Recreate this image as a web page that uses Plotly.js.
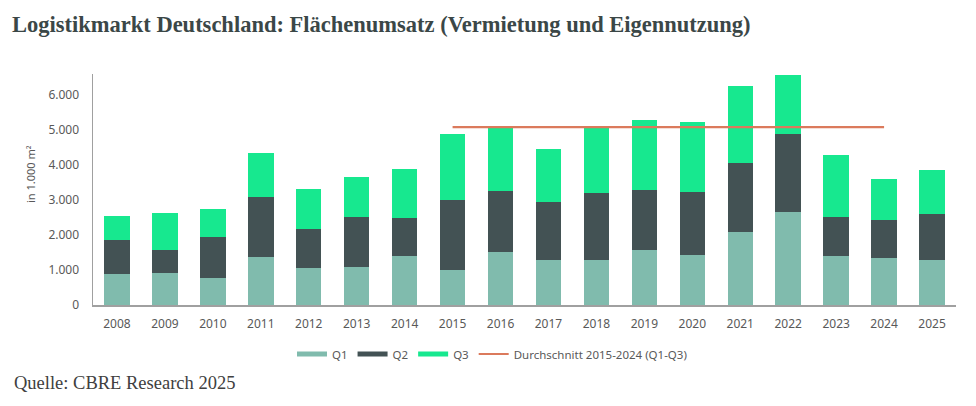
<!DOCTYPE html>
<html>
<head>
<meta charset="utf-8">
<script src="https://cdn.plot.ly/plotly-3.0.1.min.js"></script>
<style>
  html, body { margin: 0; padding: 0; background: #ffffff; }
  #chart { width: 976px; height: 406px; }
</style>
</head>
<body>
<div id="chart"></div>
<script>
// Flächenumsatz je Quartal, in 1.000 m²
const years = ['2008','2009','2010','2011','2012','2013','2014','2015','2016','2017',
               '2018','2019','2020','2021','2022','2023','2024','2025'];
const q1 = [890, 910, 760, 1380, 1050, 1090, 1390, 1000, 1510, 1280,
            1280, 1570, 1420, 2090, 2660, 1390, 1340, 1300];
const q2 = [960, 650, 1180, 1710, 1120, 1420, 1110, 2010, 1750, 1650,
            1910, 1730, 1820, 1980, 2240, 1130, 1080, 1290];
const q3 = [700, 1080, 810, 1250, 1150, 1150, 1400, 1870, 1800, 1530,
            1870, 2000, 2000, 2180, 1670, 1780, 1170, 1280];
// Durchschnitt 2015-2024 (Q1-Q3)
const avgYears = ['2015', '2024'];
const avgValue = [5080, 5080];

const yTicks = [0, 1000, 2000, 3000, 4000, 5000, 6000];

const colQ1 = '#80BBAD';
const colQ2 = '#435254';
const colQ3 = '#17E88F';
const colAvg = '#DB7A5C';
const textGrey = '#595959';

function barTrace(name, values, color) {
  return {
    type: 'bar', name: name, x: years, y: values,
    marker: { color: color, line: { width: 0 } },
    showlegend: false, hoverinfo: 'x+y+name'
  };
}
// legend keys drawn as short thick strokes
function legendEntry(name, color, width) {
  return {
    type: 'scatter', mode: 'lines', name: name, x: [null], y: [null],
    line: { color: color, width: width }, hoverinfo: 'skip', showlegend: true
  };
}

const data = [
  barTrace('Q1', q1, colQ1),
  barTrace('Q2', q2, colQ2),
  barTrace('Q3', q3, colQ3),
  {
    type: 'scatter', mode: 'lines', name: 'Durchschnitt 2015-2024 (Q1-Q3)',
    x: avgYears, y: avgValue, line: { color: colAvg, width: 2.2 },
    showlegend: false, hoverinfo: 'y'
  },
  legendEntry('Q1', colQ1, 5),
  legendEntry('Q2', colQ2, 5),
  legendEntry('Q3', colQ3, 5),
  legendEntry('Durchschnitt 2015-2024 (Q1-Q3)', colAvg, 2.2)
];

const layout = {
  width: 976, height: 406,
  paper_bgcolor: '#ffffff', plot_bgcolor: '#ffffff',
  margin: { l: 93, r: 20, t: 74, b: 101 },
  separators: ',.',
  barmode: 'stack',
  bargap: 0.47,
  font: { family: 'Noto Sans, sans-serif', color: textGrey },
  title: {
    text: '<b>Logistikmarkt Deutschland: Flächenumsatz (Vermietung und Eigennutzung)</b>',
    font: { family: 'Liberation Serif, Times New Roman, serif', size: 22.5, color: '#3B4747' },
    xref: 'container', yref: 'container',
    x: 12 / 976, xanchor: 'left',
    y: 1 - 24 / 406, yanchor: 'middle'
  },
  xaxis: {
    type: 'category',
    showline: true, linecolor: '#A0A0A0', linewidth: 1.5,
    showgrid: false, zeroline: false, ticks: '',
    ticklabelstandoff: 7,
    tickfont: { size: 12, color: textGrey }
  },
  yaxis: {
    range: [0, 6600],
    tickvals: yTicks, tickformat: ',d',
    showline: true, linecolor: '#A0A0A0', linewidth: 1.5,
    showgrid: false, zeroline: false, ticks: '',
    ticklabelstandoff: 10,
    tickfont: { size: 12, color: textGrey }
  },
  legend: {
    orientation: 'h',
    traceorder: 'normal',
    x: (292 - 93) / 863, xanchor: 'left',
    y: (305 - 354) / 231, yanchor: 'middle',
    font: { size: 11.5, color: textGrey },
    bgcolor: 'rgba(0,0,0,0)'
  },
  annotations: [
    {
      text: 'in 1.000 m²', textangle: -90, showarrow: false,
      xref: 'paper', yref: 'paper',
      x: (30 - 93) / 863, y: (305 - 174) / 231,
      xanchor: 'center', yanchor: 'middle',
      font: { size: 11, color: textGrey }
    },
    {
      text: 'Quelle: CBRE Research 2025', showarrow: false,
      xref: 'paper', yref: 'paper',
      x: (12 - 93) / 863, y: (305 - 383) / 231,
      xanchor: 'left', yanchor: 'middle',
      font: { family: 'Liberation Serif, Times New Roman, serif', size: 18.5, color: '#404040' }
    }
  ]
};

Plotly.newPlot('chart', data, layout, { staticPlot: true, displayModeBar: false });
</script>
</body>
</html>
